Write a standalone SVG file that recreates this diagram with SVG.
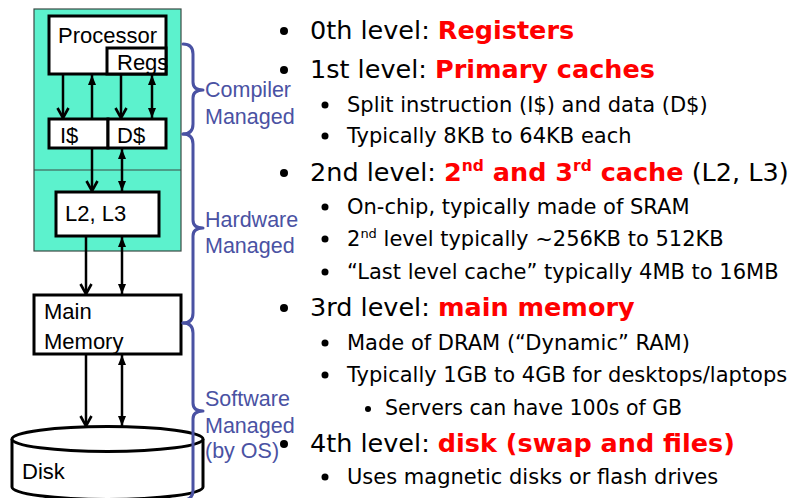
<svg xmlns="http://www.w3.org/2000/svg" width="808" height="498" viewBox="0 0 808 498">
<style>
.box{fill:#fff;stroke:#000;stroke-width:3}
.lt{font-family:"Liberation Sans",Arial,sans-serif;font-size:22px;fill:#000}
.bl{font-family:"Liberation Sans",Arial,sans-serif;font-size:21.5px;fill:#4a52a3}
.brace{fill:none;stroke:#4a52a3;stroke-width:3;stroke-linecap:round;stroke-linejoin:round}
.ar{stroke:#000;stroke-width:2.5;fill:none}
.m{font-family:"DejaVu Sans",Verdana,sans-serif;font-size:25.5px;fill:#000}
.s{font-family:"DejaVu Sans",Verdana,sans-serif;font-size:21px;fill:#000}
.ss{font-family:"DejaVu Sans",Verdana,sans-serif;font-size:20.5px;fill:#000}
.r{fill:#ff0000;font-weight:bold}
</style>
<defs>
<marker id="v" viewBox="0 0 14 14" refX="12" refY="7" markerWidth="14" markerHeight="14" markerUnits="userSpaceOnUse" orient="auto">
<path d="M2,1.5 L12,7 L2,12.5" fill="none" stroke="#000" stroke-width="2.6"/>
</marker>
<marker id="t" viewBox="0 0 10 9" refX="10" refY="4.5" markerWidth="10" markerHeight="9" markerUnits="userSpaceOnUse" orient="auto-start-reverse">
<path d="M0,0.5 L10,4.5 L0,8.5Z" fill="#000"/>
</marker>
</defs>
<g id="chip">
<rect x="34" y="9" width="147" height="242" fill="#5cf2cd" stroke="#3a4a44" stroke-width="1.2"/>
<line x1="34" y1="170" x2="181" y2="170" stroke="#3a4a44" stroke-width="1.2"/>
</g>
<g id="processor">
<rect class="box" x="49" y="16" width="117" height="58"/>
<text class="lt" x="58" y="43">Processor</text>
</g>
<g id="regs">
<rect class="box" x="107" y="48" width="59" height="26"/>
<text class="lt" x="117" y="70">Regs</text>
</g>
<g id="icache">
<rect class="box" x="49" y="119" width="59" height="29"/>
<text class="lt" x="60" y="143">I$</text>
</g>
<g id="dcache">
<rect class="box" x="108" y="119" width="58" height="29"/>
<text class="lt" x="117" y="143">D$</text>
</g>
<g id="l2l3">
<rect class="box" x="56" y="192" width="103" height="44"/>
<text class="lt" x="65" y="221">L2, L3</text>
</g>
<g id="mainmemory">
<rect class="box" x="34" y="295" width="147" height="59"/>
<text class="lt" x="44" y="319">Main</text>
<text class="lt" x="44" y="349">Memory</text>
</g>
<g id="disk">
<path d="M12,439 L12,487 A95.5,12.5 0 0 0 203,487 L203,439" fill="#fff" stroke="#000" stroke-width="3"/>
<ellipse cx="107.5" cy="439" rx="95.5" ry="12.5" fill="#fff" stroke="#000" stroke-width="3"/>
<text class="lt" x="22" y="479">Disk</text>
</g>
<g id="connectors">
<line class="ar" x1="63" y1="75" x2="63" y2="118" marker-end="url(#v)"/>
<line class="ar" x1="92" y1="118" x2="92" y2="75" marker-end="url(#t)"/>
<line class="ar" x1="121" y1="75" x2="121" y2="118" marker-end="url(#v)"/>
<line class="ar" x1="152" y1="75" x2="152" y2="118" marker-start="url(#t)" marker-end="url(#t)"/>
<line class="ar" x1="92" y1="149" x2="92" y2="191" marker-end="url(#v)"/>
<line class="ar" x1="122" y1="149" x2="122" y2="191" marker-start="url(#t)" marker-end="url(#t)"/>
<line class="ar" x1="86" y1="237" x2="86" y2="294" marker-end="url(#v)"/>
<line class="ar" x1="122" y1="237" x2="122" y2="294" marker-start="url(#t)" marker-end="url(#t)"/>
<line class="ar" x1="86" y1="355" x2="86" y2="426" marker-end="url(#v)"/>
<line class="ar" x1="122" y1="355" x2="122" y2="426" marker-start="url(#t)" marker-end="url(#t)"/>
</g>
<g id="compiler-managed">
<path class="brace" d="M183,44 Q193,44 193,54 L193,82 Q193,90 203,90 Q193,90 193,98 L193,124 Q193,134 183,134"/>
<text class="bl" x="205" y="97">Compiler</text>
<text class="bl" x="205" y="124">Managed</text>
</g>
<g id="hardware-managed">
<path class="brace" d="M183,134 Q193,134 193,144 L193,220 Q193,228 203,228 Q193,228 193,236 L193,313 Q193,323 183,323"/>
<text class="bl" x="205" y="227">Hardware</text>
<text class="bl" x="205" y="253">Managed</text>
</g>
<g id="software-managed">
<path class="brace" d="M183,323 Q193,323 193,333 L193,403 Q193,411 203,411 Q193,411 193,419 L193,490 Q193,500 183,500"/>
<text class="bl" x="205" y="406">Software</text>
<text class="bl" x="205" y="433">Managed</text>
<text class="bl" x="205" y="458">(by OS)</text>
</g>
<g id="bullets">
<circle cx="284" cy="31" r="4"/>
<text class="m" x="310" y="39">0th level: <tspan class="r">Registers</tspan></text>
<circle cx="284" cy="70" r="4"/>
<text class="m" x="310" y="78">1st level: <tspan class="r">Primary caches</tspan></text>
<circle cx="325" cy="105" r="3.5"/>
<text class="s" x="347" y="112">Split instruction (I$) and data (D$)</text>
<circle cx="325" cy="136" r="3.5"/>
<text class="s" x="347" y="143">Typically 8KB to 64KB each</text>
<circle cx="284" cy="173" r="4"/>
<text class="m" x="310" y="181">2nd level: <tspan class="r">2<tspan font-size="15.5" dy="-10">nd</tspan><tspan dy="10"> and 3</tspan><tspan font-size="15.5" dy="-10">rd</tspan><tspan dy="10"> cache</tspan></tspan> (L2, L3)</text>
<circle cx="325" cy="207" r="3.5"/>
<text class="s" x="347" y="214">On-chip, typically made of SRAM</text>
<circle cx="325" cy="239" r="3.5"/>
<text class="s" x="347" y="246">2<tspan font-size="13" dy="-8">nd</tspan><tspan dy="8"> level typically ~256KB to 512KB</tspan></text>
<circle cx="325" cy="272" r="3.5"/>
<text class="s" x="347" y="279">“Last level cache” typically 4MB to 16MB</text>
<circle cx="284" cy="308" r="4"/>
<text class="m" x="310" y="316">3rd level: <tspan class="r">main memory</tspan></text>
<circle cx="325" cy="343" r="3.5"/>
<text class="s" x="347" y="350">Made of DRAM (“Dynamic” RAM)</text>
<circle cx="325" cy="375" r="3.5"/>
<text class="s" x="347" y="382">Typically 1GB to 4GB for desktops/laptops</text>
<circle cx="368" cy="409" r="3"/>
<text class="ss" x="385" y="415">Servers can have 100s of GB</text>
<circle cx="284" cy="444" r="4"/>
<text class="m" x="310" y="452">4th level: <tspan class="r">disk (swap and files)</tspan></text>
<circle cx="325" cy="477" r="3.5"/>
<text class="s" x="347" y="484">Uses magnetic disks or flash drives</text>
</g>
</svg>
